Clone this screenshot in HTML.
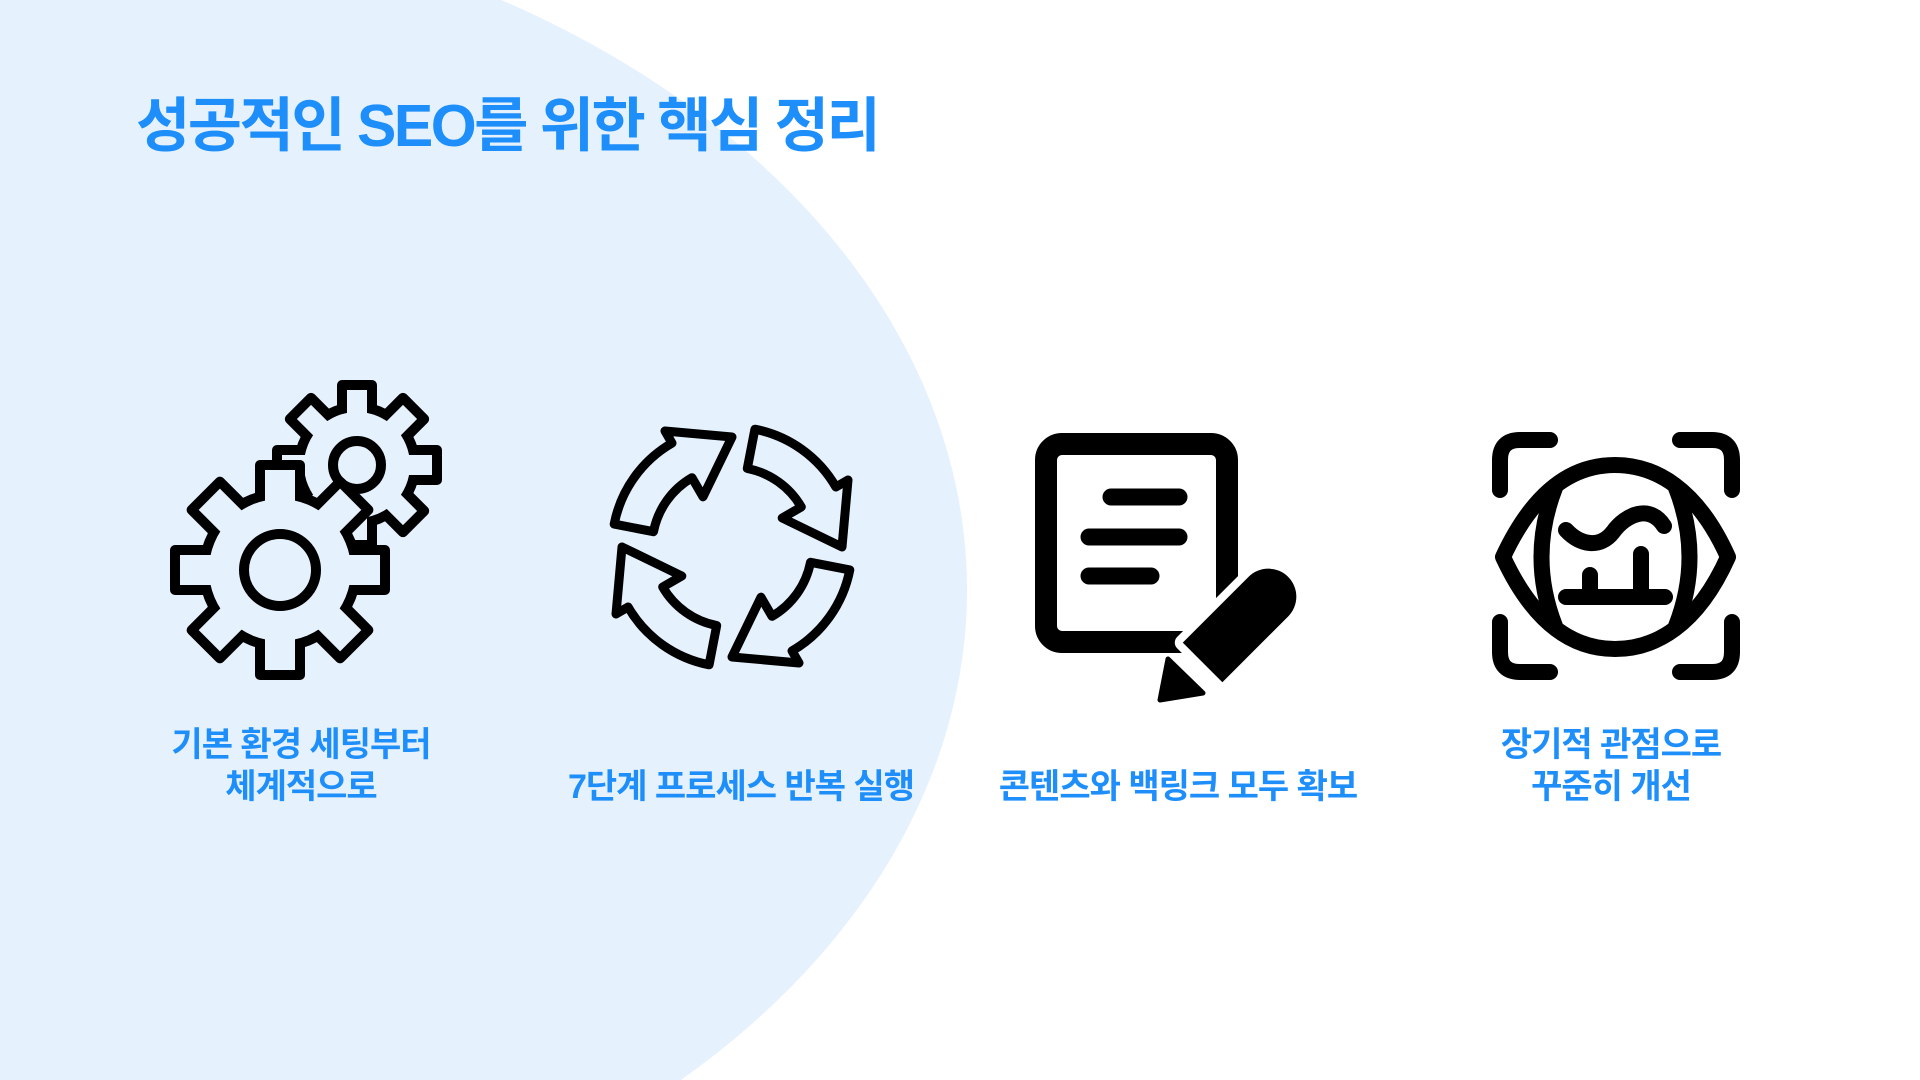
<!DOCTYPE html>
<html><head><meta charset="utf-8"><style>
html,body{margin:0;padding:0;width:1920px;height:1080px;overflow:hidden;background:#fff;position:relative;}
svg{display:block}
.t{position:absolute;font-family:"Liberation Sans","Noto Sans CJK KR",sans-serif;font-weight:bold;color:#1e8ffa;}
.lab{position:absolute;width:500px;text-align:center;font-family:"Liberation Sans","Noto Sans CJK KR",sans-serif;font-weight:bold;color:#1e8ffa;font-size:34px;line-height:42px;letter-spacing:-1px;white-space:nowrap;}
</style></head><body>
<svg width="1920" height="1080" style="position:absolute;left:0;top:0">
<ellipse cx="0" cy="590" rx="967" ry="690" fill="#e5f1fd"/>
<!-- small gear -->
<g transform="translate(357,465)" stroke="#000" stroke-width="10" stroke-linejoin="round">
 <g fill="#000">
  <circle r="58"/>
  <rect x="-15" y="-80" width="30" height="40"/><rect x="-15" y="-80" width="30" height="40" transform="rotate(45)"/><rect x="-15" y="-80" width="30" height="40" transform="rotate(90)"/><rect x="-15" y="-80" width="30" height="40" transform="rotate(135)"/><rect x="-15" y="-80" width="30" height="40" transform="rotate(180)"/><rect x="-15" y="-80" width="30" height="40" transform="rotate(225)"/><rect x="-15" y="-80" width="30" height="40" transform="rotate(270)"/><rect x="-15" y="-80" width="30" height="40" transform="rotate(315)"/>
 </g>
 <g stroke="none" fill="#e5f1fd">
  <circle r="53"/>
  <rect x="-10" y="-75" width="20" height="40"/><rect x="-10" y="-75" width="20" height="40" transform="rotate(45)"/><rect x="-10" y="-75" width="20" height="40" transform="rotate(90)"/><rect x="-10" y="-75" width="20" height="40" transform="rotate(135)"/><rect x="-10" y="-75" width="20" height="40" transform="rotate(180)"/><rect x="-10" y="-75" width="20" height="40" transform="rotate(225)"/><rect x="-10" y="-75" width="20" height="40" transform="rotate(270)"/><rect x="-10" y="-75" width="20" height="40" transform="rotate(315)"/>
 </g>
 <circle r="24" fill="none"/>
</g>
<!-- big gear -->
<g transform="translate(280,570)" stroke="#000" stroke-width="10" stroke-linejoin="round">
 <g fill="#000">
  <circle r="76"/>
  <rect x="-20" y="-105" width="40" height="50"/><rect x="-20" y="-105" width="40" height="50" transform="rotate(45)"/><rect x="-20" y="-105" width="40" height="50" transform="rotate(90)"/><rect x="-20" y="-105" width="40" height="50" transform="rotate(135)"/><rect x="-20" y="-105" width="40" height="50" transform="rotate(180)"/><rect x="-20" y="-105" width="40" height="50" transform="rotate(225)"/><rect x="-20" y="-105" width="40" height="50" transform="rotate(270)"/><rect x="-20" y="-105" width="40" height="50" transform="rotate(315)"/>
 </g>
 <g stroke="none" fill="#e5f1fd">
  <circle r="71"/>
  <rect x="-15" y="-100" width="30" height="50"/><rect x="-15" y="-100" width="30" height="50" transform="rotate(45)"/><rect x="-15" y="-100" width="30" height="50" transform="rotate(90)"/><rect x="-15" y="-100" width="30" height="50" transform="rotate(135)"/><rect x="-15" y="-100" width="30" height="50" transform="rotate(180)"/><rect x="-15" y="-100" width="30" height="50" transform="rotate(225)"/><rect x="-15" y="-100" width="30" height="50" transform="rotate(270)"/><rect x="-15" y="-100" width="30" height="50" transform="rotate(315)"/>
 </g>
 <circle r="36" fill="none"/>
</g>
<!-- arrows -->
<defs>
<path id="arr" d="M22.9,-117.8 A120 120 0 0 1 103.9,-60 L116,-67 L110,0 L50.2,-29 L69.3,-40 A80 80 0 0 0 15.3,-78.5 Z" fill="none" stroke="#000" stroke-width="9" stroke-linejoin="round"/>
</defs>
<g transform="translate(732,547)">
 <use href="#arr"/><use href="#arr" transform="rotate(90)"/><use href="#arr" transform="rotate(180)"/><use href="#arr" transform="rotate(270)"/>
</g>
<!-- document -->
<rect x="1046" y="444" width="181" height="198" rx="16" fill="none" stroke="#000" stroke-width="22"/>
<g stroke="#000" stroke-width="17" stroke-linecap="round">
 <line x1="1111" y1="497" x2="1179" y2="497"/>
 <line x1="1089" y1="537" x2="1179" y2="537"/>
 <line x1="1089" y1="576" x2="1151" y2="576"/>
</g>
<g transform="translate(1245,620) rotate(-45)">
 <path d="M-60,-28 H33 A28 28 0 0 1 33,28 H-60 Z" fill="#000" stroke="#fff" stroke-width="16" paint-order="stroke" stroke-linejoin="round"/>
</g>
<path d="M1168,659 L1203,693 L1160,700 Z" fill="#000" stroke="#fff" stroke-width="12" paint-order="stroke" stroke-linejoin="round"/>
<path d="M1168,659 L1203,693 L1160,700 Z" fill="#000" stroke="#000" stroke-width="5" stroke-linejoin="round"/>
<!-- eye -->
<g fill="none" stroke="#000" stroke-width="16" stroke-linecap="round" stroke-linejoin="round">
 <path d="M1500,490 V460 Q1500,440 1520,440 H1550"/>
 <path d="M1680,440 H1712 Q1732,440 1732,460 V490"/>
 <path d="M1500,622 V652 Q1500,672 1520,672 H1550"/>
 <path d="M1680,672 H1712 Q1732,672 1732,652 V622"/>
 <path d="M1503,557 C1535,488 1575,465 1615,465 C1655,465 1697,488 1728,557 C1697,626 1655,649 1615,649 C1575,649 1535,626 1503,557Z"/>
 <path d="M1555,488 Q1528,557 1555,626"/>
 <path d="M1676,488 Q1703,557 1676,626"/>
 <path d="M1566,530 C1580,545 1600,549 1613,532 C1626,514 1650,504 1664,526"/>
 <line x1="1566" y1="597" x2="1665" y2="597"/>
 <line x1="1590" y1="575" x2="1590" y2="597"/>
 <line x1="1641" y1="554" x2="1641" y2="597"/>
</g>
</svg>
<div class="t" style="left:136px;top:88px;font-size:59px;line-height:76px;letter-spacing:-2.5px;white-space:nowrap;">성공적인 SEO를 위한 핵심 정리</div>
<div class="lab" style="left:51px;top:724px;">기본 환경 세팅부터<br>체계적으로</div>
<div class="lab" style="left:491px;top:766px;">7단계 프로세스 반복 실행</div>
<div class="lab" style="left:928px;top:766px;">콘텐츠와 백링크 모두 확보</div>
<div class="lab" style="left:1361px;top:724px;">장기적 관점으로<br>꾸준히 개선</div>
</body></html>
